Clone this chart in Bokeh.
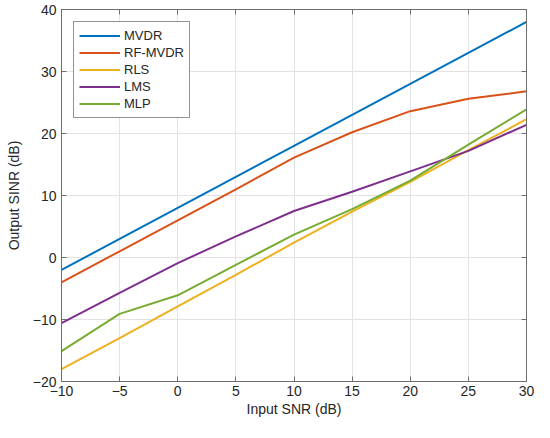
from bokeh.plotting import figure
from bokeh.models import FixedTicker, LinearAxis, Range1d, Legend, LegendItem
from bokeh.embed import file_html
from bokeh.resources import INLINE

snr_in = [-10, -5, 0, 5, 10, 15, 20, 25, 30]
mvdr = [-2, 3, 8, 13, 18, 23, 28, 33, 38]
rf_mvdr = [-4, 1, 6, 11, 16.1, 20.2, 23.6, 25.6, 26.8]
rls = [-18, -13, -7.9, -2.8, 2.4, 7.4, 12.2, 17.3, 22.3]
lms = [-10.6, -5.7, -0.9, 3.4, 7.5, 10.6, 13.9, 17.2, 21.4]
mlp = [-15.1, -9.1, -6.1, -1.2, 3.7, 7.8, 12.4, 18.2, 23.9]

series_names = ["MVDR", "RF-MVDR", "RLS", "LMS", "MLP"]
series_values = [mvdr, rf_mvdr, rls, lms, mlp]
colors = ["#0072BD", "#D95319", "#EDB120", "#7E2F8E", "#77AC30"]

x_ticks = [-10, -5, 0, 5, 10, 15, 20, 25, 30]
y_ticks = [-20, -10, 0, 10, 20, 30, 40]

def lab(v):
    return ("\u2212" + str(abs(v))) if v < 0 else str(v)

FONT = "Liberation Sans"
TXT = "#262626"
AX = "#6e6e6e"

W, H = 534, 422
BL, BR, BT, BB = 61, 8, 9, 41

p = figure(width=W, height=H, output_backend="svg", toolbar_location=None,
           x_range=Range1d(-10, 30), y_range=Range1d(-20, 40),
           min_border_left=BL, min_border_right=BR, min_border_top=BT, min_border_bottom=BB)
p.background_fill_color = "white"
p.border_fill_color = "white"
p.outline_line_color = AX
p.outline_line_width = 1

renderers = []
for name, vals, c in zip(series_names, series_values, colors):
    r = p.line(snr_in, vals, line_color=c, line_width=2)
    renderers.append((name, r))

for ax, ticks in ((p.xaxis[0], x_ticks), (p.yaxis[0], y_ticks)):
    ax.ticker = FixedTicker(ticks=ticks)
    ax.major_label_overrides = {t: lab(t) for t in ticks}
    ax.major_label_text_font = FONT
    ax.major_label_text_font_size = "14px"
    ax.major_label_text_color = TXT
    ax.axis_label_text_font = FONT
    ax.axis_label_text_font_size = "14px"
    ax.axis_label_text_font_style = "normal"
    ax.axis_label_text_color = TXT
    ax.axis_line_color = AX
    ax.major_tick_line_color = AX
    ax.major_tick_in = 5
    ax.major_tick_out = 0
    ax.minor_tick_line_color = None

p.xaxis.major_label_standoff = 4
p.yaxis.major_label_standoff = 5
p.xaxis.axis_label = "Input SNR (dB)"
p.yaxis.axis_label = "Output SINR (dB)"
p.xaxis.axis_label_standoff = 2
p.yaxis.axis_label_standoff = 8

for t, ticks in (("above", x_ticks), ("right", y_ticks)):
    a = LinearAxis(ticker=FixedTicker(ticks=ticks))
    a.major_label_text_font_size = "0px"
    a.major_label_text_color = None
    a.major_label_standoff = 0
    a.axis_line_color = AX
    a.major_tick_line_color = AX
    a.major_tick_in = 5
    a.major_tick_out = 0
    a.minor_tick_line_color = None
    p.add_layout(a, t)

p.xgrid.ticker = FixedTicker(ticks=x_ticks)
p.ygrid.ticker = FixedTicker(ticks=y_ticks)
p.grid.grid_line_color = "#e3e3e3"
p.grid.grid_line_width = 1

legend = Legend(items=[LegendItem(label=n, renderers=[r]) for n, r in renderers],
                location="top_left")
legend.margin = 12
legend.padding = 5
legend.spacing = 0
legend.glyph_width = 41
legend.glyph_height = 17
legend.label_height = 17
legend.label_standoff = 4
legend.label_text_font = FONT
legend.label_text_font_size = "13px"
legend.label_text_color = TXT
legend.border_line_color = "#262626"
legend.border_line_width = 1
legend.background_fill_color = "white"
legend.background_fill_alpha = 1
p.add_layout(legend, "center")

with open("out.html", "w") as f:
    f.write(file_html(p, INLINE))
